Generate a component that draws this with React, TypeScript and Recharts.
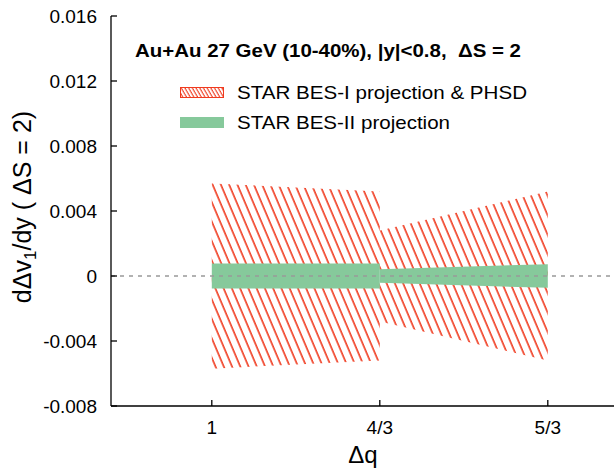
import { Area, ComposedChart, Line, XAxis, YAxis } from 'recharts';

// Δq positions and their labels
const dqValues = [1, 4 / 3, 5 / 3];
const dqLabels = ['1', '4/3', '5/3'];
const yTicks = [-0.008, -0.004, 0, 0.004, 0.008, 0.012, 0.016];

// STAR BES-I projection & PHSD (hatched band), two segments
const bes1Seg1Upper = [0.0057, 0.0052];
const bes1Seg1Lower = [-0.0057, -0.0052];
const bes1Seg2Upper = [0.0028, 0.0052];
const bes1Seg2Lower = [-0.0028, -0.0052];

// STAR BES-II projection (green band), two segments
const bes2Seg1Upper = [0.00077, 0.00077];
const bes2Seg1Lower = [-0.00077, -0.00077];
const bes2Seg2Upper = [0.00042, 0.00073];
const bes2Seg2Lower = [-0.00042, -0.00073];

const xDomain: [number, number] = [0.8, 1.8];

const HATCH = '#f03a1e';
const GREEN = '#86c99b';
const FONT = '"Liberation Sans", Arial, Helvetica, sans-serif';

type Row = {
  x: number;
  zero?: number;
  b1a?: [number, number];
  b1b?: [number, number];
  b2a?: [number, number];
  b2b?: [number, number];
};

const buildRows = (): Row[] => {
  const rows: Row[] = [{ x: xDomain[0], zero: 0 }];
  dqValues.forEach((x, i) => {
    const row: Row = { x };
    if (i < 2) {
      row.b1a = [bes1Seg1Lower[i], bes1Seg1Upper[i]];
      row.b2a = [bes2Seg1Lower[i], bes2Seg1Upper[i]];
    }
    if (i > 0) {
      row.b1b = [bes1Seg2Lower[i - 1], bes1Seg2Upper[i - 1]];
      row.b2b = [bes2Seg2Lower[i - 1], bes2Seg2Upper[i - 1]];
    }
    rows.push(row);
  });
  rows.push({ x: xDomain[1], zero: 0 });
  return rows;
};

const data = buildRows();

const xTickFormatter = (v: number) => {
  const i = dqValues.findIndex((d) => Math.abs(d - v) < 1e-6);
  return i >= 0 ? dqLabels[i] : '';
};
const yTickFormatter = (v: number) => (v === 0 ? '0' : v.toFixed(3));

const tickStyle = { fontFamily: FONT, fontSize: 19, fill: '#000' };
const axisStroke = { stroke: '#000', strokeWidth: 1.3 };

export default function App() {
  return (
    <div style={{ position: 'absolute', left: 0, top: 0, width: 614, height: 470, overflow: 'hidden', background: '#fff' }}>
      <ComposedChart width={640} height={470} data={data} margin={{ top: 16, right: 25, bottom: 0, left: 0 }}>
        <defs>
          <pattern id="hatch" patternUnits="userSpaceOnUse" width="7.6" height="7.6" patternTransform="rotate(-23)">
            <line x1="2" y1="-1" x2="2" y2="8.6" stroke={HATCH} strokeWidth="1.6" />
          </pattern>
        </defs>
        <XAxis
          xAxisId="b"
          dataKey="x"
          type="number"
          domain={xDomain}
          ticks={dqValues}
          interval={0}
          allowDataOverflow
          tickFormatter={xTickFormatter}
          height={64}
          tickSize={-6}
          tickMargin={21}
          tick={tickStyle}
          axisLine={axisStroke}
          tickLine={axisStroke}
        />
        <XAxis
          xAxisId="t"
          orientation="top"
          dataKey="x"
          type="number"
          domain={xDomain}
          ticks={dqValues}
          interval={0}
          allowDataOverflow
          height={0}
          tickSize={-6}
          tick={false}
          axisLine={axisStroke}
          tickLine={axisStroke}
        />
        <YAxis
          yAxisId="l"
          type="number"
          domain={[-0.008, 0.016]}
          ticks={yTicks}
          interval={0}
          allowDataOverflow
          tickFormatter={yTickFormatter}
          width={111}
          tickSize={-6}
          tickMargin={20}
          tick={tickStyle}
          axisLine={axisStroke}
          tickLine={axisStroke}
        />
        <YAxis
          yAxisId="r"
          orientation="right"
          type="number"
          domain={[-0.008, 0.016]}
          ticks={yTicks}
          interval={0}
          allowDataOverflow
          width={0}
          tickSize={-6}
          tick={false}
          axisLine={false}
          tickLine={axisStroke}
        />
        <Line
          xAxisId="b"
          yAxisId="l"
          dataKey="zero"
          stroke="#999"
          strokeWidth={1.3}
          strokeDasharray="4 5"
          dot={false}
          activeDot={false}
          connectNulls
          isAnimationActive={false}
        />
        <Area xAxisId="b" yAxisId="l" type="linear" dataKey="b1a" fill="url(#hatch)" fillOpacity={1} stroke="none" isAnimationActive={false} />
        <Area xAxisId="b" yAxisId="l" type="linear" dataKey="b1b" fill="url(#hatch)" fillOpacity={1} stroke="none" isAnimationActive={false} />
        <Area xAxisId="b" yAxisId="l" type="linear" dataKey="b2a" fill={GREEN} fillOpacity={1} stroke="none" isAnimationActive={false} />
        <Area xAxisId="b" yAxisId="l" type="linear" dataKey="b2b" fill={GREEN} fillOpacity={1} stroke="none" isAnimationActive={false} />
      </ComposedChart>
      <svg width={614} height={470} style={{ position: 'absolute', left: 0, top: 0, pointerEvents: 'none' }} fontFamily={FONT}>
        <defs>
          <pattern id="hatchKey" patternUnits="userSpaceOnUse" width="3.2" height="3.2" patternTransform="rotate(-30)">
            <line x1="1" y1="-1" x2="1" y2="4.2" stroke={HATCH} strokeWidth="1.1" />
          </pattern>
        </defs>
        <text x={135} y={57} fontSize={18} fontWeight="bold" textLength={386} lengthAdjust="spacingAndGlyphs" style={{ whiteSpace: 'pre' }}>
          {'Au+Au 27 GeV (10-40%), |y|<0.8,\u00a0 ΔS = 2'}
        </text>
        <rect x={180.5} y={87.5} width={43} height={10} fill="url(#hatchKey)" stroke={HATCH} strokeWidth={1} />
        <text x={237} y={98.5} fontSize={19} textLength={290} lengthAdjust="spacingAndGlyphs">
          STAR BES-I projection &amp; PHSD
        </text>
        <rect x={180} y={117} width={44} height={11} fill={GREEN} />
        <text x={237} y={128.5} fontSize={19} textLength={213} lengthAdjust="spacingAndGlyphs">
          STAR BES-II projection
        </text>
        <text x={363} y={463} fontSize={24} textAnchor="middle">
          Δq
        </text>
        <text transform="translate(31, 207) rotate(-90)" fontSize={25} textAnchor="middle">
          dΔv<tspan fontSize={17} dy={5}>1</tspan>
          <tspan dy={-5}>/dy ( ΔS = 2)</tspan>
        </text>
      </svg>
    </div>
  );
}
